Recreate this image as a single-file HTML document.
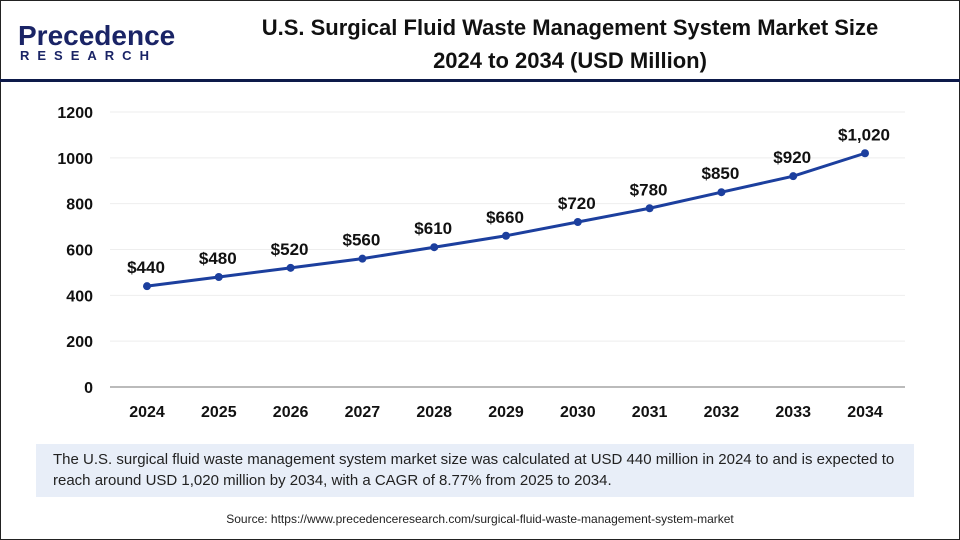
<!DOCTYPE html>
<html><head><meta charset="utf-8"><style>
body{margin:0;width:960px;height:540px;overflow:hidden;background:#fff;font-family:"Liberation Sans",sans-serif;}
#frame{position:absolute;left:0;top:0;width:958px;height:538px;border:1px solid #222;}
#hr{position:absolute;left:0;top:79px;width:960px;height:3px;background:#0d1a4a;}
#title{position:absolute;left:200px;width:740px;top:11px;text-align:center;font-weight:bold;font-size:22px;line-height:33px;color:#111;}
#logo1{position:absolute;left:18px;top:20px;font-size:28px;color:#1a2466;font-weight:bold;}
#logo2{position:absolute;left:20px;top:48px;font-size:13px;color:#1a2466;font-weight:bold;letter-spacing:8px;}
#note{position:absolute;left:36px;top:444px;width:850px;padding:5px 11px 0 17px;height:48px;background:#e8eef8;font-size:15px;line-height:21px;color:#222;}
#src{position:absolute;left:0;width:960px;top:512px;text-align:center;font-size:12px;color:#222;}
</style></head><body>
<div id="frame"></div>
<div id="logo1">Precedence</div>
<div id="logo2">RESEARCH</div>
<div id="title">U.S. Surgical Fluid Waste Management System Market Size<br>2024 to 2034 (USD Million)</div>
<div id="hr"></div>
<svg id="chart" width="960" height="540" style="position:absolute;left:0;top:0"></svg>
<div id="note">The U.S. surgical fluid waste management system market size was calculated at USD 440 million in 2024 to and is expected to reach around USD 1,020 million by 2034, with a CAGR of 8.77% from 2025 to 2034.</div>
<div id="src">Source: https://www.precedenceresearch.com/surgical-fluid-waste-management-system-market</div>
<script>
const years=["2024","2025","2026","2027","2028","2029","2030","2031","2032","2033","2034"];
const values=[440,480,520,560,610,660,720,780,850,920,1020];
const valueLabels=["$440","$480","$520","$560","$610","$660","$720","$780","$850","$920","$1,020"];
const yTicks=[0,200,400,600,800,1000,1200];
const svg=document.getElementById('chart');
const NS='http://www.w3.org/2000/svg';
const x=i=>147+i*71.8;
const y=v=>387-v*(275/1200);
function mk(t,a,txt){const e=document.createElementNS(NS,t);for(const k in a)e.setAttribute(k,a[k]);if(txt!=null)e.textContent=txt;svg.appendChild(e);return e;}
yTicks.forEach(v=>{
const g=mk('line',{x1:110,x2:905,y1:y(v),y2:y(v),stroke:v===0?'#bbb':'#eee','stroke-width':v===0?2:1});


const t=mk('text',{x:93,y:y(v)+6,'text-anchor':'end','font-size':16,'font-weight':'bold',fill:'#111'},v);


});
years.forEach((yr,i)=>{
const t=mk('text',{x:x(i),y:417,'text-anchor':'middle','font-size':16,'font-weight':'bold',fill:'#111'},yr);


});
const line=mk('polyline',{points:values.map((v,i)=>x(i)+','+y(v)).join(' '),fill:'none',stroke:'#1c3f9e','stroke-width':3});


values.forEach((v,i)=>{
const c=mk('circle',{cx:x(i),cy:y(v),r:4,fill:'#1c3f9e'});


const t=mk('text',{x:x(i)-1,y:y(v)-13,'text-anchor':'middle','font-size':17,'font-weight':'bold',fill:'#111'},valueLabels[i]);


});
</script>
</body></html>
